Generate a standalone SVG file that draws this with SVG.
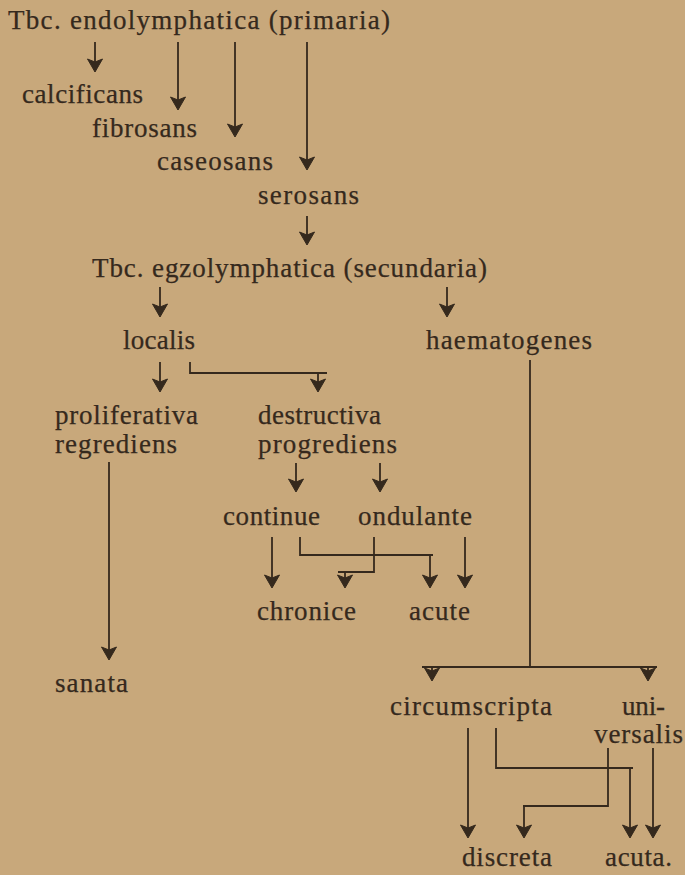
<svg xmlns="http://www.w3.org/2000/svg" xmlns:xlink="http://www.w3.org/1999/xlink" width="685" height="875" viewBox="0 0 685 875">
<style>
text{font-family:"Liberation Serif","DejaVu Serif",serif;font-size:27px;fill:#35291d;stroke:#35291d;stroke-width:0.25}
.c line,.c polyline{stroke:#35291d;stroke-width:1.8;fill:none}
</style>
<defs>
<path id="ah" fill="#35291d" stroke="#35291d" stroke-width="1" stroke-linejoin="round" d="M0,0 L-7.5,-13 L0,-10 L7.5,-13 Z"/>
</defs>
<rect width="685" height="875" fill="#c8a87b"/>
<g id="n-title"><text x="8" y="29" textLength="382" lengthAdjust="spacing">Tbc.  endolymphatica  (primaria)</text></g>
<g id="n-calcificans"><text x="22" y="103" textLength="121" lengthAdjust="spacing">calcificans</text></g>
<g id="n-fibrosans"><text x="92" y="137" textLength="105" lengthAdjust="spacing">fibrosans</text></g>
<g id="n-caseosans"><text x="157" y="170" textLength="116" lengthAdjust="spacing">caseosans</text></g>
<g id="n-serosans"><text x="258" y="204" textLength="101" lengthAdjust="spacing">serosans</text></g>
<g id="n-egzo"><text x="92" y="277" textLength="395" lengthAdjust="spacing">Tbc. egzolymphatica (secundaria)</text></g>
<g id="n-localis"><text x="123" y="349" textLength="72" lengthAdjust="spacing">localis</text></g>
<g id="n-haematogenes"><text x="426" y="349" textLength="166" lengthAdjust="spacing">haematogenes</text></g>
<g id="n-proliferativa"><text x="55" y="424" textLength="143" lengthAdjust="spacing">proliferativa</text><text x="55" y="453" textLength="122" lengthAdjust="spacing">regrediens</text></g>
<g id="n-destructiva"><text x="258" y="424" textLength="123" lengthAdjust="spacing">destructiva</text><text x="258" y="453" textLength="139" lengthAdjust="spacing">progrediens</text></g>
<g id="n-continue"><text x="223" y="525" textLength="97" lengthAdjust="spacing">continue</text></g>
<g id="n-ondulante"><text x="358" y="525" textLength="114" lengthAdjust="spacing">ondulante</text></g>
<g id="n-chronice"><text x="257" y="620" textLength="99" lengthAdjust="spacing">chronice</text></g>
<g id="n-acute"><text x="409" y="620" textLength="61" lengthAdjust="spacing">acute</text></g>
<g id="n-sanata"><text x="55" y="692" textLength="73" lengthAdjust="spacing">sanata</text></g>
<g id="n-circumscripta"><text x="390" y="715" textLength="162" lengthAdjust="spacing">circumscripta</text></g>
<g id="n-universalis"><text x="622" y="715" textLength="43" lengthAdjust="spacing">uni-</text><text x="594" y="743" textLength="89" lengthAdjust="spacing">versalis</text></g>
<g id="n-discreta"><text x="462" y="866" textLength="90" lengthAdjust="spacing">discreta</text></g>
<g id="n-acuta"><text x="605" y="866" textLength="67" lengthAdjust="spacing">acuta.</text></g>
<g id="connectors" class="c">
<line x1="95" y1="42" x2="95" y2="70"/><use xlink:href="#ah" x="95" y="72"/>
<line x1="178" y1="42" x2="178" y2="108"/><use xlink:href="#ah" x="178" y="110"/>
<line x1="235" y1="42" x2="235" y2="135"/><use xlink:href="#ah" x="235" y="137"/>
<line x1="307" y1="42" x2="307" y2="168"/><use xlink:href="#ah" x="307" y="170"/>
<line x1="307" y1="216" x2="307" y2="243"/><use xlink:href="#ah" x="307" y="245"/>
<line x1="160" y1="287" x2="160" y2="315"/><use xlink:href="#ah" x="160" y="317"/>
<line x1="447" y1="287" x2="447" y2="315"/><use xlink:href="#ah" x="447" y="317"/>
<line x1="160" y1="362" x2="160" y2="390"/><use xlink:href="#ah" x="160" y="392"/>
<polyline points="190,362 190,373 327,373"/><line x1="318" y1="373" x2="318" y2="390"/><use xlink:href="#ah" x="318" y="392"/>
<line x1="109" y1="462" x2="109" y2="658"/><use xlink:href="#ah" x="109" y="660"/>
<line x1="296" y1="463" x2="296" y2="490"/><use xlink:href="#ah" x="296" y="492"/>
<line x1="380" y1="463" x2="380" y2="490"/><use xlink:href="#ah" x="380" y="492"/>
<line x1="272" y1="537" x2="272" y2="586"/><use xlink:href="#ah" x="272" y="588"/>
<polyline points="300,537 300,555 433,555"/><line x1="430" y1="555" x2="430" y2="586"/><use xlink:href="#ah" x="430" y="588"/>
<polyline points="374,537 374,573"/><line x1="338" y1="572" x2="374" y2="572"/><line x1="345" y1="572" x2="345" y2="586"/><use xlink:href="#ah" x="345" y="588"/>
<line x1="465" y1="537" x2="465" y2="586"/><use xlink:href="#ah" x="465" y="588"/>
<line x1="530" y1="360" x2="530" y2="667"/><line x1="422" y1="667" x2="657" y2="667"/>
<line x1="432" y1="667" x2="432" y2="678"/><use xlink:href="#ah" x="432" y="681"/>
<line x1="648" y1="667" x2="648" y2="678"/><use xlink:href="#ah" x="648" y="681"/>
<line x1="468" y1="728" x2="468" y2="836"/><use xlink:href="#ah" x="468" y="838"/>
<polyline points="496,728 496,768 633,768"/><line x1="630" y1="768" x2="630" y2="836"/><use xlink:href="#ah" x="630" y="838"/>
<polyline points="608,748 608,806 523,806"/><line x1="524" y1="806" x2="524" y2="836"/><use xlink:href="#ah" x="524" y="838"/>
<line x1="653" y1="748" x2="653" y2="836"/><use xlink:href="#ah" x="653" y="838"/>
</g>
</svg>
